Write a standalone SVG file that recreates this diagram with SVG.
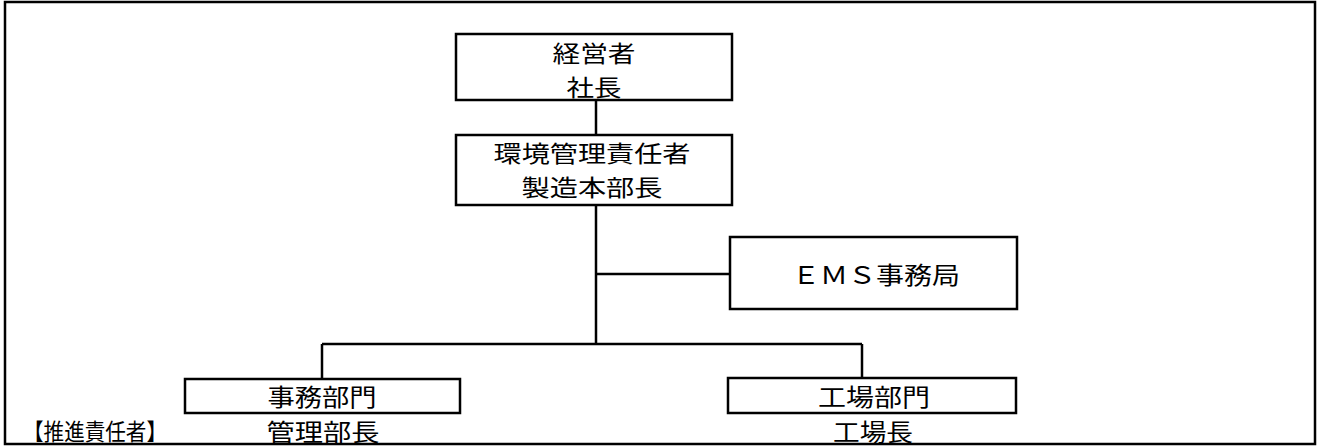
<svg xmlns="http://www.w3.org/2000/svg" width="1320" height="448" viewBox="0 0 1320 448">
<style>
.box{fill:#fff;stroke:#000;stroke-width:2.5}
.ln{stroke:#000;stroke-width:2.5;fill:none}
.t{font-family:"Noto Sans CJK JP","Noto Sans CJK SC",sans-serif;fill:#000;text-anchor:middle}
.frame{fill:#fff;stroke:#000;stroke-width:2.5}
</style>
<rect class="frame" x="5" y="2" width="1310" height="442"/>
<g id="connectors">
<line class="ln" x1="596" y1="100" x2="596" y2="135"/>
<line class="ln" x1="596" y1="205" x2="596" y2="344"/>
<line class="ln" x1="596" y1="274" x2="730" y2="274"/>
<line class="ln" x1="322" y1="344" x2="862" y2="344"/>
<line class="ln" x1="322" y1="344" x2="322" y2="379"/>
<line class="ln" x1="862" y1="344" x2="862" y2="378"/>
</g>
<g id="ceo">
<rect class="box" x="456" y="34" width="276" height="66"/>
<text class="t" x="594" y="62" font-size="23" textLength="83" lengthAdjust="spacingAndGlyphs">経営者</text>
<text class="t" x="594" y="96" font-size="23" textLength="55" lengthAdjust="spacingAndGlyphs">社長</text>
</g>
<g id="env-manager">
<rect class="box" x="456" y="135" width="276" height="70"/>
<text class="t" x="592" y="162" font-size="23" textLength="197" lengthAdjust="spacingAndGlyphs">環境管理責任者</text>
<text class="t" x="592" y="196" font-size="23" textLength="141" lengthAdjust="spacingAndGlyphs">製造本部長</text>
</g>
<g id="ems-office">
<rect class="box" x="730" y="237" width="287" height="72"/>
<text class="t" x="876" y="284" font-size="24" textLength="168" lengthAdjust="spacingAndGlyphs" style="font-family:'Liberation Serif','Noto Sans CJK JP',serif">ＥＭＳ事務局</text>
</g>
<g id="admin-dept">
<rect class="box" x="185" y="379" width="275" height="34"/>
<text class="t" x="322" y="406" font-size="24" textLength="109" lengthAdjust="spacingAndGlyphs">事務部門</text>
<text class="t" x="323" y="441" font-size="24" textLength="113" lengthAdjust="spacingAndGlyphs">管理部長</text>
</g>
<g id="factory-dept">
<rect class="box" x="728" y="378" width="288" height="35"/>
<text class="t" x="874" y="406" font-size="24" textLength="112" lengthAdjust="spacingAndGlyphs">工場部門</text>
<text class="t" x="873" y="441" font-size="24" textLength="80" lengthAdjust="spacingAndGlyphs">工場長</text>
</g>
<g id="label">
<text class="t" x="95" y="440" font-size="23" textLength="144" lengthAdjust="spacingAndGlyphs">【推進責任者】</text>
</g>
</svg>
